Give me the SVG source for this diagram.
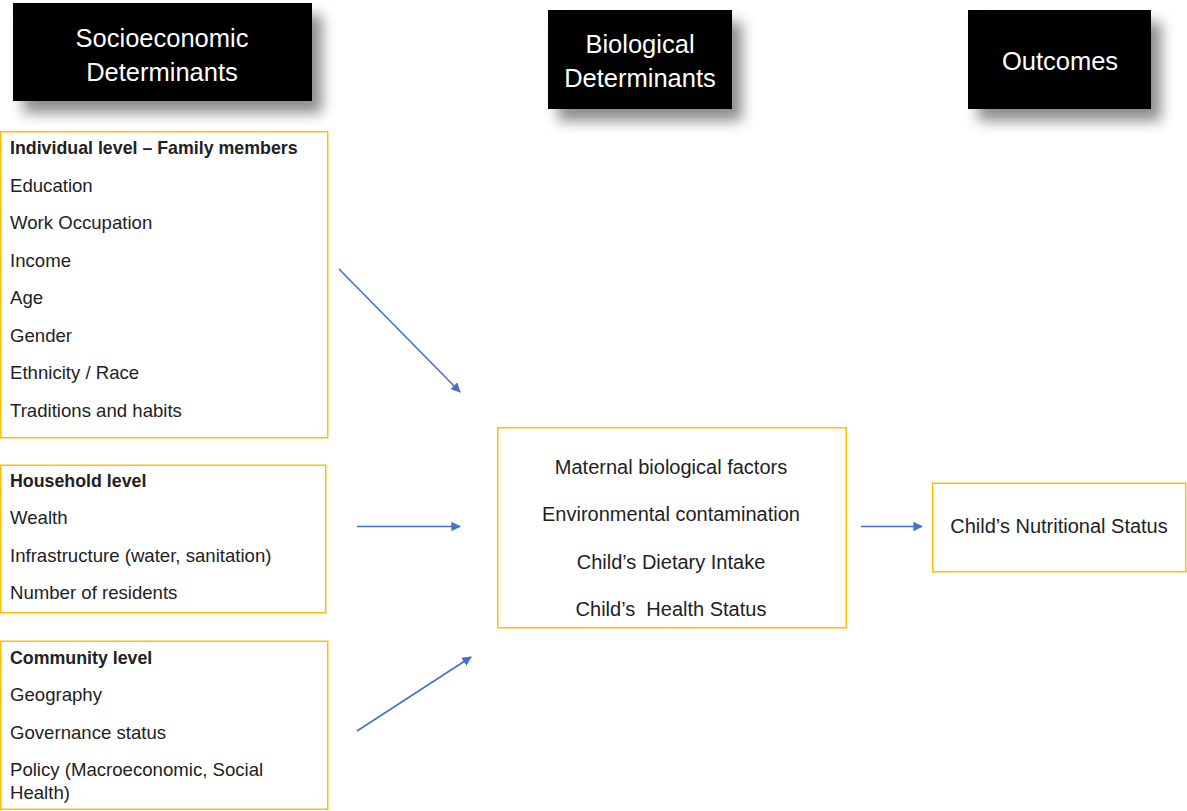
<svg xmlns="http://www.w3.org/2000/svg" width="1187" height="811" viewBox="0 0 1187 811">
<style>
.hdr{fill:#000;filter:url(#sh)}
.ht{fill:#fff;font-family:"Liberation Sans",Arial,sans-serif;font-size:25.5px;text-anchor:middle}
.box{fill:#fff;stroke:#FFC000;stroke-width:1.5}
.t{fill:#222;font-family:"Liberation Sans",Arial,sans-serif;font-size:18.6px}
.b{font-weight:bold;font-size:17.8px}
.c{text-anchor:middle;font-size:20px}
.ar{stroke:#4472C4;stroke-width:1.6;fill:none;marker-end:url(#ah)}
</style>
<defs>
<filter id="sh" x="-20%" y="-30%" width="150%" height="180%">
<feDropShadow dx="10" dy="12" stdDeviation="7" flood-color="#000" flood-opacity="0.45"/>
</filter>
<marker id="ah" viewBox="0 0 10 10" refX="9" refY="5" markerWidth="6" markerHeight="6" orient="auto" markerUnits="strokeWidth">
<path d="M0,0 L10,5 L0,10 z" fill="#4472C4"/>
</marker>
</defs>
<rect width="1187" height="811" fill="#fff"/>
<g id="hdr-socio">
<rect class="hdr" x="13" y="3" width="299" height="98"/>
<text class="ht" x="162" y="47">Socioeconomic</text>
<text class="ht" x="162" y="81">Determinants</text>
</g>
<g id="hdr-bio">
<rect class="hdr" x="548" y="10" width="184" height="99"/>
<text class="ht" x="640" y="53">Biological</text>
<text class="ht" x="640" y="87">Determinants</text>
</g>
<g id="hdr-out">
<rect class="hdr" x="968" y="10" width="183" height="99"/>
<text class="ht" x="1060" y="70">Outcomes</text>
</g>
<g id="individual">
<rect class="box" x="0.75" y="131.75" width="327" height="306"/>
<text class="t b" x="10" y="154">Individual level – Family members</text>
<text class="t" x="10" y="192">Education</text>
<text class="t" x="10" y="229">Work Occupation</text>
<text class="t" x="10" y="267">Income</text>
<text class="t" x="10" y="304">Age</text>
<text class="t" x="10" y="342">Gender</text>
<text class="t" x="10" y="379">Ethnicity / Race</text>
<text class="t" x="10" y="417">Traditions and habits</text>
</g>
<g id="household">
<rect class="box" x="0.75" y="465.25" width="325" height="147.5"/>
<text class="t b" x="10" y="487">Household level</text>
<text class="t" x="10" y="524">Wealth</text>
<text class="t" x="10" y="562">Infrastructure (water, sanitation)</text>
<text class="t" x="10" y="599">Number of residents</text>
</g>
<g id="community">
<rect class="box" x="0.75" y="641.25" width="327" height="168"/>
<text class="t b" x="10" y="664">Community level</text>
<text class="t" x="10" y="701">Geography</text>
<text class="t" x="10" y="739">Governance status</text>
<text class="t" x="10" y="776">Policy (Macroeconomic, Social</text>
<text class="t" x="10" y="799">Health)</text>
</g>
<g id="biological">
<rect class="box" x="497.75" y="427.75" width="348.5" height="200"/>
<text class="t c" x="671" y="474">Maternal biological factors</text>
<text class="t c" x="671" y="521">Environmental contamination</text>
<text class="t c" x="671" y="569">Child’s Dietary Intake</text>
<text class="t c" x="671" y="616" xml:space="preserve">Child’s  Health Status</text>
</g>
<g id="outcome">
<rect class="box" x="932.75" y="483.25" width="253" height="88.5"/>
<text class="t c" x="1059" y="533">Child’s Nutritional Status</text>
</g>
<g id="connectors">
<line class="ar" x1="339" y1="269" x2="460" y2="392"/>
<line class="ar" x1="357" y1="526.5" x2="460" y2="526.5"/>
<line class="ar" x1="357" y1="731" x2="471" y2="657"/>
<line class="ar" x1="861" y1="526.5" x2="922" y2="526.5"/>
</g>
</svg>
